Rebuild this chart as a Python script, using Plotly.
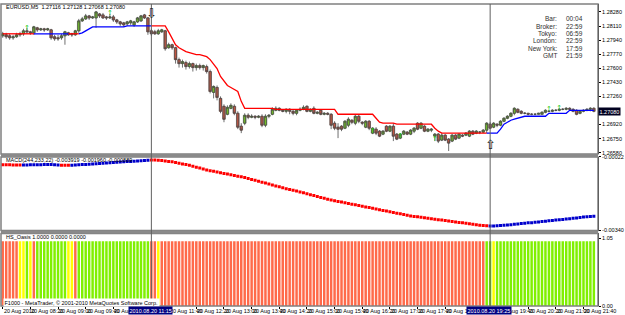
import plotly.graph_objects as go

# ---------------- data ----------------
TICK_LABELS = ["20 Aug 2010", "20 Aug 08:20", "20 Aug 09:00", "20 Aug 09:40", "20 Aug 10:20",
               "20 Aug 11:00", "20 Aug 11:40", "20 Aug 12:20", "20 Aug 13:00", "20 Aug 13:40",
               "20 Aug 14:20", "20 Aug 15:00", "20 Aug 15:40", "20 Aug 16:20", "20 Aug 17:00",
               "20 Aug 17:40", "20 Aug 18:20", "20 Aug 19:00", "20 Aug 19:40", "20 Aug 20:20",
               "20 Aug 21:00", "20 Aug 21:40"]
TICK_BARS = [0, 8, 16, 24, 32, 40, 48, 56, 64, 72, 80, 88, 96, 104, 112, 120, 128, 136, 144, 152, 160, 168]

OPEN = [1.27992, 1.28004, 1.27992, 1.27968, 1.2798, 1.28004, 1.28016, 1.28052, 1.2804, 1.28028,
        1.28088, 1.28064, 1.28076, 1.28064, 1.28064, 1.2798, 1.27968, 1.27968, 1.27992, 1.28028,
        1.28016, 1.28004, 1.28052, 1.28172, 1.28196, 1.28232, 1.28208, 1.28208, 1.28256, 1.28244,
        1.2822, 1.28208, 1.2822, 1.28184, 1.2816, 1.28148, 1.28136, 1.28148, 1.28124, 1.2816,
        1.28172, 1.28244, 1.28208, 1.28052, 1.2804, 1.28016, 1.2804, 1.28052, 1.27848, 1.27884,
        1.27848, 1.27704, 1.27656, 1.27668, 1.2762, 1.27656, 1.27608, 1.27632, 1.27608, 1.2762,
        1.2756, 1.27308, 1.27368, 1.27236, 1.2714, 1.27044, 1.27116, 1.2714, 1.27056, 1.269,
        1.26936, 1.27032, 1.27008, 1.2702, 1.27008, 1.2702, 1.26912, 1.2702, 1.27044, 1.27092,
        1.27116, 1.27092, 1.2708, 1.27104, 1.2708, 1.27056, 1.27092, 1.27104, 1.2714, 1.2708,
        1.27116, 1.27056, 1.27092, 1.27044, 1.27056, 1.27044, 1.26936, 1.26888, 1.269, 1.26876,
        1.26912, 1.26972, 1.26936, 1.2702, 1.26948, 1.26888, 1.2696, 1.26816, 1.26864, 1.2684,
        1.26804, 1.269, 1.2684, 1.269, 1.26804, 1.26756, 1.26804, 1.26828, 1.26804, 1.2684,
        1.26936, 1.26876, 1.269, 1.2684, 1.26852, 1.2678, 1.26804, 1.26732, 1.26792, 1.26744,
        1.2672, 1.26792, 1.26756, 1.26792, 1.26792, 1.2678, 1.2684, 1.26816, 1.26828, 1.26828,
        1.26852, 1.26924, 1.26888, 1.26924, 1.26912, 1.2696, 1.26996, 1.2702, 1.27056, 1.27104,
        1.2708, 1.27056, 1.27056, 1.27044, 1.27044, 1.27044, 1.27044, 1.27068, 1.2708, 1.2708,
        1.27092, 1.27092, 1.27104, 1.27104, 1.27116, 1.27104, 1.27092, 1.27056, 1.2708, 1.27092,
        1.27104, 1.27116]
HIGH = [1.2804, 1.28028, 1.28016, 1.28004, 1.28028, 1.2804, 1.28076, 1.28088, 1.28052, 1.28112,
        1.281, 1.28088, 1.28088, 1.28088, 1.28076, 1.28004, 1.28004, 1.28016, 1.28052, 1.2804,
        1.28028, 1.28064, 1.28196, 1.2822, 1.28256, 1.28244, 1.28232, 1.28292, 1.28268, 1.28268,
        1.28232, 1.28256, 1.28244, 1.28196, 1.28172, 1.2816, 1.28172, 1.28184, 1.28172, 1.2822,
        1.28244, 1.28256, 1.2822, 1.28076, 1.28064, 1.28076, 1.28076, 1.28064, 1.27908, 1.27896,
        1.2786, 1.27728, 1.27704, 1.27692, 1.2768, 1.27668, 1.27656, 1.27656, 1.27644, 1.27644,
        1.27584, 1.27392, 1.27392, 1.2726, 1.27164, 1.27152, 1.27176, 1.27164, 1.2708, 1.26936,
        1.27056, 1.27056, 1.27044, 1.27032, 1.27032, 1.27044, 1.27044, 1.27044, 1.27128, 1.2714,
        1.27128, 1.27104, 1.27116, 1.27116, 1.27104, 1.27104, 1.27128, 1.27152, 1.27152, 1.27116,
        1.2714, 1.2708, 1.27104, 1.27068, 1.27068, 1.27056, 1.2696, 1.26936, 1.26912, 1.26972,
        1.27008, 1.26984, 1.27044, 1.27044, 1.2696, 1.26972, 1.26972, 1.26888, 1.26888, 1.26852,
        1.26852, 1.26912, 1.26912, 1.26936, 1.26816, 1.26816, 1.26852, 1.2684, 1.26864, 1.26888,
        1.26948, 1.26948, 1.26912, 1.26876, 1.26876, 1.26816, 1.26816, 1.26816, 1.26804, 1.26756,
        1.26804, 1.26804, 1.26816, 1.26804, 1.26828, 1.26852, 1.26852, 1.26852, 1.2684, 1.26864,
        1.26948, 1.26948, 1.26948, 1.26936, 1.26972, 1.27008, 1.27032, 1.27068, 1.27128, 1.27116,
        1.27092, 1.27068, 1.27056, 1.27056, 1.27056, 1.27056, 1.2708, 1.27104, 1.27092, 1.27104,
        1.27104, 1.27116, 1.27116, 1.27128, 1.27128, 1.27116, 1.27104, 1.27092, 1.27104, 1.27116,
        1.27128, 1.27128]
LOW = [1.27968, 1.27956, 1.27944, 1.27944, 1.27968, 1.2798, 1.27992, 1.28016, 1.28004, 1.28004,
       1.2804, 1.28052, 1.2804, 1.28052, 1.27944, 1.27932, 1.27932, 1.27944, 1.27884, 1.27992,
       1.2798, 1.27992, 1.28028, 1.2816, 1.28184, 1.28184, 1.28196, 1.28088, 1.28208, 1.28196,
       1.28184, 1.28196, 1.2816, 1.28136, 1.28112, 1.281, 1.28112, 1.28124, 1.281, 1.28148,
       1.2816, 1.28196, 1.28004, 1.27992, 1.28004, 1.28004, 1.28028, 1.27812, 1.27836, 1.27824,
       1.27656, 1.27608, 1.27608, 1.27584, 1.27596, 1.2756, 1.27572, 1.27584, 1.27572, 1.27536,
       1.27296, 1.27236, 1.27212, 1.27056, 1.26948, 1.27032, 1.27104, 1.27032, 1.26864, 1.26816,
       1.26912, 1.26984, 1.26996, 1.26984, 1.26996, 1.26888, 1.26888, 1.26996, 1.27032, 1.2708,
       1.2708, 1.27068, 1.27056, 1.27044, 1.27032, 1.27032, 1.2708, 1.27092, 1.27068, 1.27068,
       1.27044, 1.27044, 1.27032, 1.27032, 1.27032, 1.26864, 1.26852, 1.26756, 1.2684, 1.26864,
       1.26888, 1.26924, 1.26912, 1.26936, 1.26912, 1.26876, 1.26852, 1.26804, 1.26792, 1.26768,
       1.26792, 1.26828, 1.26828, 1.2672, 1.26732, 1.26744, 1.26792, 1.26792, 1.26792, 1.26816,
       1.26852, 1.26864, 1.26828, 1.26828, 1.26828, 1.2672, 1.26696, 1.2672, 1.2672, 1.266,
       1.26708, 1.26732, 1.26744, 1.26768, 1.2678, 1.26768, 1.26792, 1.26804, 1.26804, 1.26816,
       1.26816, 1.26864, 1.26876, 1.26888, 1.269, 1.26948, 1.26984, 1.27008, 1.27032, 1.27056,
       1.27044, 1.27044, 1.27032, 1.27032, 1.27032, 1.27044, 1.27044, 1.27056, 1.27068, 1.27068,
       1.2708, 1.2708, 1.27092, 1.27092, 1.27092, 1.27068, 1.27032, 1.27044, 1.27068, 1.2708,
       1.2708, 1.27068]
CLOSE = [1.28016, 1.2798, 1.27968, 1.2798, 1.28004, 1.28016, 1.28052, 1.2804, 1.28028, 1.281,
         1.28064, 1.28076, 1.28064, 1.28076, 1.27968, 1.27956, 1.27956, 1.27992, 1.2804, 1.28004,
         1.28004, 1.28052, 1.28172, 1.28196, 1.28232, 1.28208, 1.2822, 1.2828, 1.28232, 1.28208,
         1.28208, 1.2822, 1.28184, 1.2816, 1.28136, 1.28124, 1.2816, 1.28172, 1.2816, 1.28208,
         1.28232, 1.28208, 1.2804, 1.28016, 1.28016, 1.28052, 1.28064, 1.27836, 1.27884, 1.27848,
         1.27704, 1.27656, 1.2768, 1.2762, 1.27656, 1.27608, 1.27632, 1.27608, 1.27632, 1.2756,
         1.2732, 1.2738, 1.27248, 1.2708, 1.26984, 1.27128, 1.27152, 1.27056, 1.26888, 1.26852,
         1.27032, 1.27008, 1.2702, 1.27008, 1.2702, 1.26912, 1.2702, 1.27032, 1.27104, 1.27116,
         1.27092, 1.2708, 1.27104, 1.2708, 1.27056, 1.27092, 1.27104, 1.27128, 1.2708, 1.27104,
         1.27056, 1.27068, 1.27044, 1.27056, 1.27044, 1.26912, 1.26876, 1.26864, 1.26864, 1.2696,
         1.26984, 1.26948, 1.2702, 1.2696, 1.26936, 1.2696, 1.26876, 1.26876, 1.26816, 1.2678,
         1.2684, 1.2684, 1.269, 1.2678, 1.26744, 1.26804, 1.2684, 1.26804, 1.26852, 1.26876,
         1.26864, 1.26936, 1.2684, 1.26864, 1.26864, 1.26804, 1.2672, 1.26792, 1.26732, 1.26696,
         1.26792, 1.26744, 1.26804, 1.2678, 1.26816, 1.2684, 1.26804, 1.2684, 1.26828, 1.26852,
         1.26936, 1.26876, 1.26936, 1.26912, 1.2696, 1.26996, 1.2702, 1.27056, 1.27116, 1.27068,
         1.27056, 1.27056, 1.27044, 1.27044, 1.27044, 1.27056, 1.27068, 1.27092, 1.2708, 1.27092,
         1.27092, 1.27104, 1.27104, 1.27116, 1.27104, 1.2708, 1.27044, 1.2708, 1.27092, 1.27104,
         1.27116, 1.2708]

TREND = [1.28016, 1.28016, 1.28016, 1.28016, 1.28016, 1.28016, 1.28016, 1.28016, 1.28016, 1.28016,
         1.28016, 1.28016, 1.28016, 1.28016, 1.28016, 1.28016, 1.28016, 1.28016, 1.28016, 1.28016,
         1.28016, 1.28016, 1.28016, 1.28028, 1.28052, 1.28076, 1.281, 1.281, 1.281, 1.281,
         1.281, 1.281, 1.281, 1.281, 1.281, 1.281, 1.28112, 1.28112, 1.28112, 1.28112,
         1.28112, 1.28112, 1.28112, 1.28112, 1.28112, 1.28112, 1.28112, 1.28112, 1.2804, 1.27956,
         1.27884, 1.27848, 1.27824, 1.278, 1.27788, 1.27776, 1.27764, 1.27764, 1.27752, 1.2774,
         1.27704, 1.27644, 1.27596, 1.275, 1.2744, 1.27392, 1.27368, 1.27344, 1.2732, 1.272,
         1.27116, 1.27116, 1.27116, 1.27116, 1.27116, 1.27116, 1.27116, 1.27116, 1.27116, 1.27104,
         1.27104, 1.27104, 1.27104, 1.27104, 1.27104, 1.27104, 1.27104, 1.27104, 1.27104, 1.27104,
         1.27104, 1.27104, 1.27104, 1.27104, 1.27104, 1.27104, 1.27104, 1.27044, 1.27044, 1.27044,
         1.27044, 1.27044, 1.27044, 1.27044, 1.27044, 1.27044, 1.27044, 1.27044, 1.26996, 1.26948,
         1.26936, 1.26936, 1.26936, 1.26936, 1.26924, 1.26924, 1.26924, 1.26924, 1.26924, 1.26924,
         1.26924, 1.26924, 1.26924, 1.26924, 1.26924, 1.26876, 1.2684, 1.26816, 1.26816, 1.26816,
         1.26816, 1.26816, 1.26816, 1.26816, 1.26816, 1.26816, 1.26816, 1.26816, 1.26816, 1.26816,
         1.26816, 1.26816, 1.26816, 1.26816, 1.26864, 1.26924, 1.26948, 1.26972, 1.26984, 1.26996,
         1.27008, 1.2702, 1.2702, 1.2702, 1.2702, 1.2702, 1.2702, 1.2702, 1.27056, 1.27056,
         1.27056, 1.27056, 1.27056, 1.27056, 1.27092, 1.27092, 1.27092, 1.27092, 1.27092, 1.27092,
         1.27092, 1.27092]
TREND_DIR = ("RRRRRRRRR" + "BBBBBBBBBB" + "RRR" + "B" * 21 + "R" * 97 + "B" * 32)

# small green fractal arrows (bar index, price)
ARROW_BARS = [7, 31, 107, 115, 125, 158, 161]
ARROW_PRICES = [1.2808, 1.2826, 1.2684, 1.2678, 1.2674, 1.27104, 1.27116]

MACD_E5 = [-56, -56, -56, -57, -57, -57,
           -57, -57, -56, -56, -56, -56, -55, -55, -55, -56, -57,
           -58, -58, -58,
           -58, -57, -56, -55, -54, -53, -52, -51, -50, -49, -48, -47, -46, -45, -44, -43,
           -42, -41, -40, -39, -38, -37, -36,
           -35, -35, -36, -37, -39, -41, -43, -46, -49, -52, -55, -58, -62, -66, -70, -74, -78,
           -81, -84, -87, -90, -93, -96, -99, -102, -105, -108, -111,
           -115, -119, -123, -127, -131, -135, -139, -143, -147, -151, -155, -159, -163, -166, -169,
           -173, -177, -181, -185, -189, -193, -197, -201, -205, -208, -211, -214, -217, -220,
           -223, -226, -229, -232, -235, -238, -241, -244, -247, -250, -253, -256, -259, -262,
           -265, -268, -271, -274, -277, -279, -281, -283, -285, -287, -289, -291, -293, -295,
           -297, -299, -301, -303, -305, -307, -309, -311, -313, -315, -317, -318, -319,
           -320, -320, -319, -318, -317, -316, -315, -313, -312, -310, -309, -307, -306, -304,
           -303, -301, -300, -298, -297, -295, -294, -292, -290, -289, -287, -286, -284, -282,
           -281, -279, -278]
MACD_DIR = "R" * 6 + "B" * 11 + "R" * 3 + "B" * 23 + "R" * 98 + "B" * 31

OASIS_STATE = ("RRRRR" + "YY" + "G" + "Y" + "R" + "G" * 9 + "YY" + "R" + "G" * 21 + "RR" + "Y"
               + "R" * 94 + "GG" + "Y" + "G" * 29)
OASIS_LEVEL = 1.0

PRICE_TICKS = [1.2658, 1.2675, 1.2692, 1.2709, 1.2726, 1.2743, 1.2760, 1.2777, 1.2794, 1.2811, 1.2828]
MACD_TICKS = [-0.00022, -0.00340]
OASIS_TICKS = [1.05, 0.0]

HEADER = "EURUSD,M5  1.27116 1.27128 1.27068 1.27080"
MACD_LABEL = "MACD(244,233,22) -0.003919 -0.001960 -0.000889"
OASIS_LABEL = "HS_Oasis 1.0000 0.0000 0.0000"
STATUS = "F1000 - MetaTrader, \u00a9 2001-2010 MetaQuotes Software Corp."
INFO_KEYS = ["Bar:", "Broker:", "Tokyo:", "London:", "New York:", "GMT"]
INFO_VALS = ["00:04", "22:59", "06:59", "22:59", "17:59", "21:59"]
CURSORS = [(43, "2010.08.20 11:15"), (141, "2010.08.20 19:25")]
LAST_PRICE = 1.27080

N = len(CLOSE)
X = list(range(N))

# ---------------- geometry ----------------
W, H = 625, 315
ML, MR, MT, MB = 1, 16, 2, 9
PW, PH = W - ML - MR, H - MT - MB
FONT = "Liberation Sans"


def py(y):
    return (H - MB - y) / PH


def pxp(x):
    return (x - ML) / PW


P1, P2, P3 = (2, 153), (156, 230), (233, 306)

fig = go.Figure()

# wicks (and doji lines) from the candlestick trace
fig.add_trace(go.Candlestick(
    x=X, open=OPEN, high=HIGH, low=LOW, close=CLOSE, xaxis="x", yaxis="y",
    increasing=dict(fillcolor="#7FE020", line=dict(color="#4a4a4a", width=0.8)),
    decreasing=dict(fillcolor="#E85A40", line=dict(color="#4a4a4a", width=0.8)),
    whiskerwidth=0, showlegend=False, hoverinfo="skip"))

# wider candle bodies
body_base = [min(o, c) for o, c in zip(OPEN, CLOSE)]
body_h = [abs(c - o) for o, c in zip(OPEN, CLOSE)]
body_col = ["#7FE020" if c > o else "#E85A40" for o, c in zip(OPEN, CLOSE)]
fig.add_trace(go.Bar(x=X, y=body_h, base=body_base, width=0.78, yaxis="y",
                     marker=dict(color=body_col, line=dict(color="#4a4a4a", width=0.6)),
                     showlegend=False, hoverinfo="skip"))


def split(vals, dirs, key):
    out = []
    for i, v in enumerate(vals):
        on = dirs[i] == key or (i > 0 and dirs[i - 1] == key)
        out.append(v if on else None)
    return out


fig.add_trace(go.Scatter(x=X, y=split(TREND, TREND_DIR, "R"), mode="lines", yaxis="y",
                         line=dict(color="#FF0000", width=1.3), showlegend=False, hoverinfo="skip"))
fig.add_trace(go.Scatter(x=X, y=split(TREND, TREND_DIR, "B"), mode="lines", yaxis="y",
                         line=dict(color="#0000FF", width=1.3), showlegend=False, hoverinfo="skip"))
fig.add_trace(go.Scatter(x=ARROW_BARS, y=ARROW_PRICES, mode="text", text=["\u2191"] * len(ARROW_BARS),
                         textfont=dict(family="DejaVu Sans", size=7, color="#22CC22"), yaxis="y",
                         showlegend=False, hoverinfo="skip"))

macd = [v * 1e-5 for v in MACD_E5]
for key, col in (("R", "#FF0000"), ("B", "#0000CC")):
    fig.add_trace(go.Scatter(
        x=[x for x, d in zip(X, MACD_DIR) if d == key],
        y=[m for m, d in zip(macd, MACD_DIR) if d == key],
        mode="markers", yaxis="y2",
        marker=dict(symbol="square", size=3, color=col, line=dict(width=0)),
        showlegend=False, hoverinfo="skip"))

cmap = {"R": "#FF6A4A", "G": "#80F000", "Y": "#FFFF00"}
fig.add_trace(go.Bar(x=X, y=[OASIS_LEVEL] * N, yaxis="y3", width=0.72,
                     marker=dict(color=[cmap[s] for s in OASIS_STATE], line=dict(width=0)),
                     showlegend=False, hoverinfo="skip"))

tickfont = dict(family=FONT, size=5.5, color="#000000")


def yax(dom, rng, tv, tt):
    return dict(domain=dom, range=rng, side="right", anchor="x", tickvals=tv, ticktext=tt,
                ticks="outside", ticklen=2, tickcolor="#000000", tickfont=tickfont,
                showgrid=False, zeroline=False, showline=True, linecolor="#000000",
                linewidth=1, fixedrange=True)


layout_annotations = []


def ann(**kw):
    base = dict(showarrow=False, font=dict(family=FONT, size=5.5, color="#000000"))
    base.update(kw)
    layout_annotations.append(base)


ann(text=HEADER, xref="paper", yref="paper", x=pxp(4), y=py(5), xanchor="left", yanchor="middle")
ann(text=MACD_LABEL, xref="paper", yref="paper", x=pxp(4), y=py(159), xanchor="left", yanchor="middle")
ann(text=OASIS_LABEL, xref="paper", yref="paper", x=pxp(4), y=py(237), xanchor="left", yanchor="middle")
ann(text=STATUS, xref="paper", yref="paper", x=pxp(3), y=py(302), xanchor="left", yanchor="middle",
    bgcolor="#FFFFFF", borderpad=0.5)

for k, (key, val) in enumerate(zip(INFO_KEYS, INFO_VALS)):
    yy = py(17 + k * 7.4)
    ann(text=key, xref="paper", yref="paper", x=pxp(569), y=yy, xanchor="right", yanchor="middle",
        font=dict(family=FONT, size=6.5, color="#303030"))
    ann(text=val, xref="paper", yref="paper", x=pxp(574), y=yy, xanchor="left", yanchor="middle",
        font=dict(family=FONT, size=6.5, color="#303030"))

# time labels; the one fully hidden behind each cursor box is not drawn, as in the terminal
cursor_bars = [cb for cb, _ in CURSORS]
for tb, tl in zip(TICK_BARS, TICK_LABELS):
    if any(cb - 6 <= tb <= cb - 2 for cb in cursor_bars):
        continue
    ann(text=tl, xref="x", yref="paper", x=tb - 0.3, y=py(311), xanchor="left", yanchor="middle")

for cb, ct in CURSORS:
    ann(text=ct, xref="x", yref="paper", x=cb - 0.3, y=py(311), xanchor="center", yanchor="middle",
        bgcolor="#000080", borderpad=0.5, font=dict(family=FONT, size=5.5, color="#FFFFFF"))

ann(text=f"{LAST_PRICE:.5f}", xref="paper", yref="y", x=pxp(609), y=LAST_PRICE, xanchor="left",
    yanchor="middle", bgcolor="#000020", borderpad=0.5, font=dict(family=FONT, size=5.5, color="#FFFFFF"))

# hollow arrows
ann(text="\u21e9", xref="x", yref="paper", x=43, y=py(12), xanchor="center", yanchor="middle",
    font=dict(family="DejaVu Sans", size=13, color="#202020"))
ann(text="\u21e7", xref="x", yref="paper", x=141, y=py(143), xanchor="center", yanchor="middle",
    font=dict(family="DejaVu Sans", size=13, color="#202020"))

shapes = []
for (t, b) in (P1, P2, P3):
    shapes.append(dict(type="rect", xref="paper", yref="paper", x0=0, x1=1, y0=py(b), y1=py(t),
                       line=dict(color="#808080", width=1.5), fillcolor="rgba(0,0,0,0)", layer="above"))
for (a, b) in ((153, 156), (230, 233)):
    shapes.append(dict(type="rect", xref="paper", yref="paper", x0=0, x1=1, y0=py(b), y1=py(a),
                       line=dict(width=0), fillcolor="#8a8a8a", layer="above"))
for cb, _ in CURSORS:
    shapes.append(dict(type="line", xref="x", yref="paper", x0=cb, x1=cb, y0=0, y1=1,
                       line=dict(color="#606060", width=1), layer="above"))

# price tick hidden under the last-price box
price_text = ["" if abs(v - LAST_PRICE) < 0.0004 else f"{v:.5f}" for v in PRICE_TICKS]

fig.update_layout(
    width=W, height=H, margin=dict(l=ML, r=MR, t=MT, b=MB),
    paper_bgcolor="#FFFFFF", plot_bgcolor="#FFFFFF",
    barmode="overlay", showlegend=False,
    xaxis=dict(domain=[0, 1], range=[-0.5, 172.2], anchor="y3", tickvals=TICK_BARS,
               showticklabels=False, ticks="outside", ticklen=2, tickcolor="#000000",
               showgrid=False, zeroline=False, showline=False, rangeslider=dict(visible=False),
               fixedrange=True),
    yaxis=yax([py(P1[1]), py(P1[0])], [1.2840 - 0.00012 * P1[1], 1.2840 - 0.00012 * P1[0]],
              PRICE_TICKS, price_text),
    yaxis2=yax([py(P2[1]), py(P2[0])], [-0.00340, -0.00022], MACD_TICKS, [f"{v:.5f}" for v in MACD_TICKS]),
    yaxis3=yax([py(P3[1]), py(P3[0])], [0, 1.12], OASIS_TICKS, ["1.05", "0.00"]),
    annotations=layout_annotations,
    shapes=shapes,
)

fig.write_html("out.html")
